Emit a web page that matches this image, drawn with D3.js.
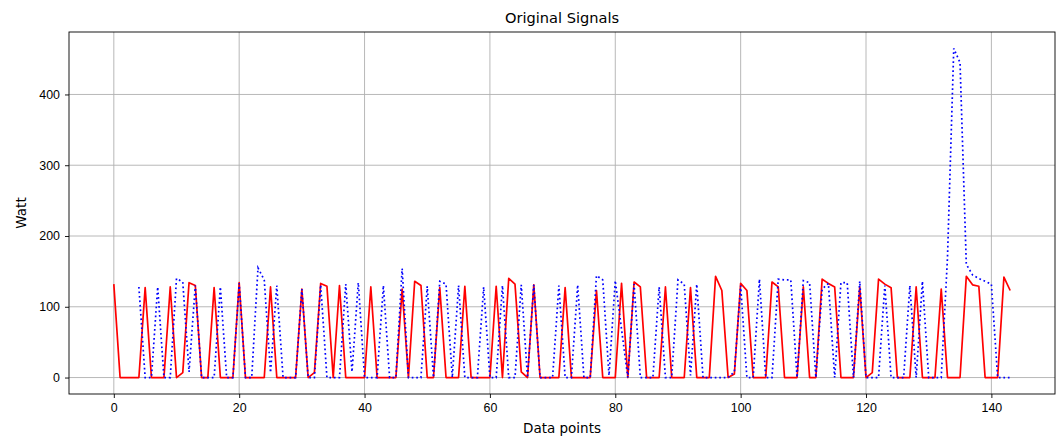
<!DOCTYPE html>
<meta charset="utf-8">
<style>
body { margin: 0; background: #fff; }
svg { font-family: "DejaVu Sans", sans-serif; }
.grid line { stroke: #b0b0b0; stroke-width: 0.9; }
.axis path, .axis line { stroke: #000; stroke-width: 0.9; }
.axis text { font-size: 12.4px; fill: #000; }
</style>
<body>
<script src="https://d3js.org/d3.v7.min.js"></script>
<script>

// red solid signal, one value per data point (0..143)
const redSignal = [132,0,0,0,0,127,0,0,0,128,0,7,134,130,0,0,127,0,0,0,
  134,0,0,0,0,128,0,0,0,0,125,0,7,133,129,0,130,0,0,0,
  0,128,0,0,0,0,125,0,136,130,0,0,127,0,0,0,129,0,0,0,
  0,129,0,140,132,8,0,131,0,0,0,0,127,0,0,0,0,123,0,0,
  0,133,0,135,128,0,0,0,128,0,0,0,127,0,0,0,143,123,0,5,
  133,123,0,0,0,135,128,0,0,0,128,0,0,139,133,128,0,0,0,128,
  0,7,139,132,127,0,0,0,128,0,0,0,125,0,0,0,143,131,129,0,
  0,0,142,123];

// blue dotted signal, first four points are missing
const blueSignal = [null,null,null,null,128,0,0,128,0,0,140,135,8,130,0,0,0,128,0,0,
  133,0,0,155,138,7,130,0,0,0,125,0,0,131,0,0,0,132,8,134,
  0,0,0,130,0,0,154,0,0,0,129,0,136,132,0,130,0,0,0,128,
  0,0,130,0,0,131,0,131,0,0,0,130,0,0,131,0,0,144,138,3,
  137,68,0,132,0,0,0,128,0,0,138,132,3,132,0,0,0,0,0,8,
  130,0,0,139,0,0,139,138,138,0,137,134,0,125,133,0,134,134,0,136,
  0,0,0,130,0,0,0,130,0,136,0,0,0,170,465,445,160,145,140,136,
  132,0,0,0];

const xTicks = [0, 20, 40, 60, 80, 100, 120, 140];
const yTicks = [0, 100, 200, 300, 400];

var margin = {top: 32, right: 7, bottom: 45, left: 69},
    width = 1062 - margin.left - margin.right,
    height = 439 - margin.top - margin.bottom;

var n = redSignal.length;
var ymax = d3.max(blueSignal.concat(redSignal));
var xpad = (n - 1) * 0.05, ypad = ymax * 0.05;

var x = d3.scaleLinear().domain([-xpad, n - 1 + xpad]).range([0, width]);
var y = d3.scaleLinear().domain([-ypad, ymax + ypad]).range([height, 0]);

var svg = d3.select("body").append("svg")
    .attr("width", 1062)
    .attr("height", 439)
  .append("g")
    .attr("transform", "translate(" + margin.left + "," + margin.top + ")");

// grid
svg.append("g").attr("class", "grid")
  .selectAll("line.gx").data(xTicks).enter().append("line")
    .attr("x1", d => x(d)).attr("x2", d => x(d))
    .attr("y1", 0).attr("y2", height);
svg.append("g").attr("class", "grid")
  .selectAll("line.gy").data(yTicks).enter().append("line")
    .attr("x1", 0).attr("x2", width)
    .attr("y1", d => y(d)).attr("y2", d => y(d));

var line = d3.line()
    .defined(d => d != null)
    .x((d, i) => x(i))
    .y(d => y(d));

svg.append("clipPath").attr("id", "clip")
  .append("rect").attr("width", width).attr("height", height);

svg.append("path")
    .datum(redSignal)
    .attr("clip-path", "url(#clip)")
    .attr("fill", "none")
    .attr("stroke", "#ff0000")
    .attr("stroke-width", 1.7)
    .attr("stroke-linejoin", "round")
    .attr("d", line);

svg.append("path")
    .datum(blueSignal)
    .attr("clip-path", "url(#clip)")
    .attr("fill", "none")
    .attr("stroke", "#0000ff")
    .attr("stroke-width", 1.7)
    .attr("stroke-dasharray", "1.7,2.8")
    .attr("d", line);

// axes
svg.append("g")
    .attr("class", "axis")
    .attr("transform", "translate(0," + height + ")")
    .call(d3.axisBottom(x).tickValues(xTicks).tickSize(4).tickPadding(5).tickFormat(d3.format("d")))
    .call(g => g.select(".domain").remove());

svg.append("g")
    .attr("class", "axis")
    .call(d3.axisLeft(y).tickValues(yTicks).tickSize(4).tickPadding(5).tickFormat(d3.format("d")))
    .call(g => g.select(".domain").remove());

svg.append("rect")
    .attr("width", width)
    .attr("height", height)
    .attr("fill", "none")
    .attr("stroke", "#000")
    .attr("stroke-width", 0.9);

svg.append("text")
    .attr("x", width / 2)
    .attr("y", -9)
    .attr("text-anchor", "middle")
    .attr("font-size", "14.6px")
    .text("Original Signals");

svg.append("text")
    .attr("x", width / 2)
    .attr("y", height + 39)
    .attr("text-anchor", "middle")
    .attr("font-size", "13.5px")
    .text("Data points");

svg.append("text")
    .attr("transform", "rotate(-90)")
    .attr("x", -height / 2)
    .attr("y", -43)
    .attr("text-anchor", "middle")
    .attr("font-size", "13.5px")
    .text("Watt");
</script>
</body>
